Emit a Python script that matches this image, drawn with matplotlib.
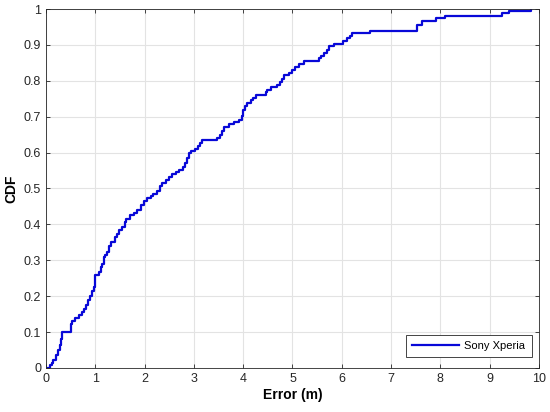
import numpy as np
import matplotlib
matplotlib.use("Agg")
import matplotlib.pyplot as plt
from matplotlib.ticker import FormatStrFormatter

plt.rcParams['font.family'] = ['Liberation Sans', 'DejaVu Sans']

# step points of the empirical CDF (error in m, cumulative fraction)
error_m = [0.05, 0.08, 0.12, 0.15, 0.2, 0.25, 0.28, 0.3, 0.32, 0.51, 0.52, 0.59,
           0.66, 0.73, 0.78, 0.82, 0.86, 0.9, 0.93, 0.97, 0.99, 1.0, 1.07, 1.12,
           1.14, 1.17, 1.19, 1.24, 1.28, 1.32, 1.39, 1.44, 1.48, 1.54, 1.6, 1.63,
           1.71, 1.78, 1.84, 1.92, 1.98, 2.04, 2.12, 2.18, 2.25, 2.32, 2.36, 2.43,
           2.5, 2.55, 2.63, 2.7, 2.78, 2.82, 2.86, 2.9, 2.94, 3.02, 3.08, 3.12,
           3.17, 3.47, 3.52, 3.57, 3.62, 3.72, 3.82, 3.92, 3.97, 4.0, 4.04, 4.08,
           4.15, 4.2, 4.25, 4.46, 4.49, 4.56, 4.69, 4.74, 4.78, 4.83, 4.92, 4.98,
           5.05, 5.14, 5.24, 5.54, 5.58, 5.64, 5.7, 5.74, 5.84, 6.03, 6.1, 6.16,
           6.2, 6.57, 7.52, 7.62, 7.92, 8.09, 9.25, 9.39, 9.84]
cdf = [0.0, 0.007, 0.014, 0.022, 0.036, 0.05, 0.065, 0.08, 0.10, 0.122, 0.13, 0.14,
       0.148, 0.157, 0.165, 0.175, 0.19, 0.2, 0.213, 0.225, 0.236, 0.259, 0.266, 0.28,
       0.29, 0.31, 0.316, 0.324, 0.34, 0.352, 0.366, 0.374, 0.384, 0.394, 0.406, 0.414,
       0.426, 0.432, 0.44, 0.454, 0.464, 0.474, 0.478, 0.486, 0.494, 0.506, 0.514, 0.524,
       0.532, 0.54, 0.547, 0.552, 0.56, 0.57, 0.585, 0.598, 0.604, 0.61, 0.618, 0.626,
       0.635, 0.642, 0.65, 0.66, 0.672, 0.68, 0.686, 0.692, 0.703, 0.72, 0.73, 0.738,
       0.746, 0.752, 0.76, 0.768, 0.775, 0.782, 0.789, 0.797, 0.806, 0.816, 0.822, 0.83,
       0.838, 0.848, 0.856, 0.864, 0.87, 0.878, 0.886, 0.898, 0.902, 0.91, 0.918, 0.925,
       0.932, 0.94, 0.955, 0.967, 0.974, 0.982, 0.988, 0.994, 1.0]
label = "Sony Xperia"

fig = plt.figure(figsize=(5.5, 4.12), dpi=100)
ax = fig.add_axes([0.0836, 0.107, 0.8964, 0.871])

ax.plot(error_m, cdf, drawstyle='steps-post', color='#0808d8', lw=1.6, label=label)

ax.set_xlim(0, 10)
ax.set_ylim(0, 1)
ax.set_xticks(np.arange(0, 11, 1))
ax.set_yticks(np.arange(0, 1.01, 0.1))
ax.yaxis.set_major_formatter(FormatStrFormatter('%g'))
ax.grid(True, color='#e3e3e3', lw=0.8)
ax.set_axisbelow(True)
ax.tick_params(direction='in', top=True, right=True, length=3, labelsize=9,
               colors='#262626', width=0.6)
for s in ax.spines.values():
    s.set_color('#262626')
    s.set_linewidth(0.6)

ax.set_xlabel("Error (m)", fontsize=10, fontweight='bold', labelpad=2)
ax.set_ylabel("CDF", fontsize=10, fontweight='bold', labelpad=4)

leg = ax.legend(loc='lower right', bbox_to_anchor=(0.985, 0.03), borderaxespad=0,
                fontsize=8, fancybox=False, framealpha=1, edgecolor='#262626',
                handlelength=4.2, handletextpad=0.5, borderpad=0.55)
leg.get_frame().set_linewidth(0.6)

fig.savefig("out.png", dpi=100)
